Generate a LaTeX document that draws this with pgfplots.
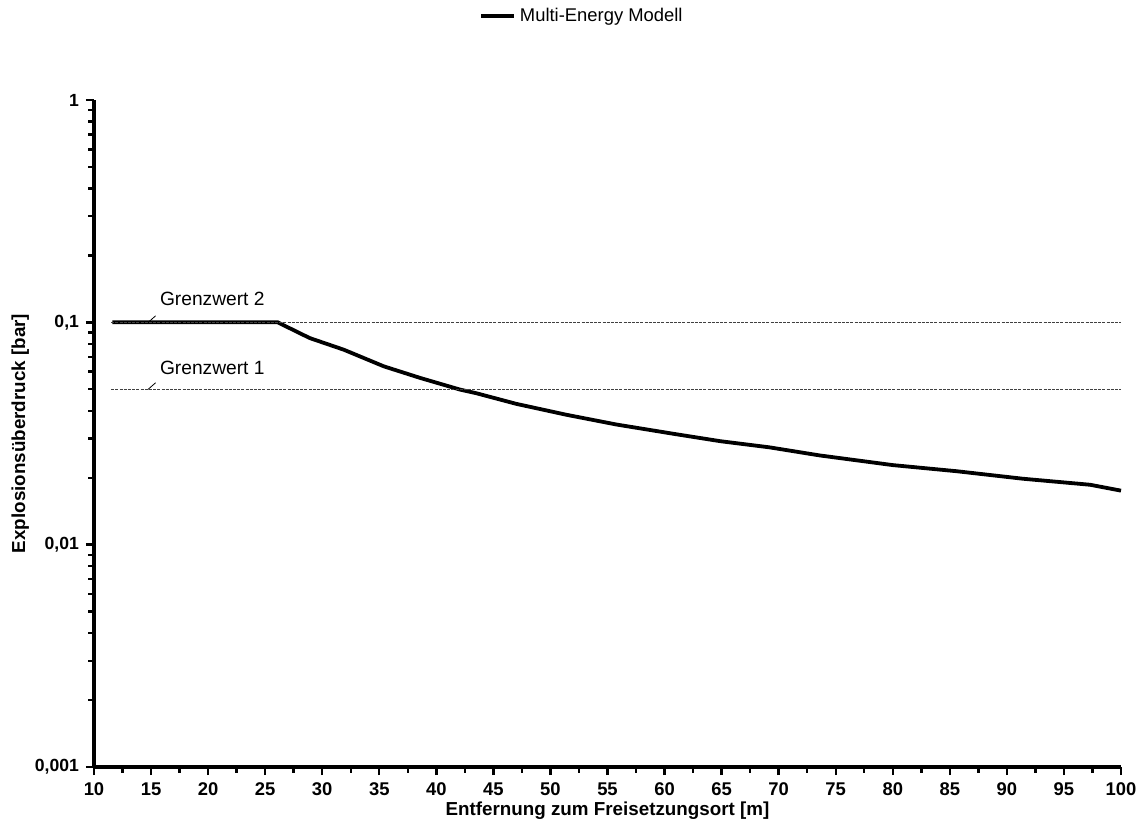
\documentclass[border=0pt]{standalone}
\usepackage{fontspec}
\setmainfont{Liberation Sans}
\usepackage{pgfplots}
\pgfplotsset{compat=1.18}

\begin{document}
\begin{tikzpicture}
\begin{axis}[
  at={(0,0)}, anchor=south west,
  scale only axis,
  width=513.5pt, height=333.5pt,
  xmin=10, xmax=100,
  ymin=0.001, ymax=1,
  ymode=log,
  axis x line=bottom, axis y line=left,
  axis line style={-, line width=1.6pt},
  tick align=outside,
  major tick length=4pt, minor tick length=2.8pt,
  every tick/.style={black, line width=1.2pt},
  xtick={10,15,...,100},
  minor x tick num=1,
  ytick={0.001,0.01,0.1,1},
  yticklabels={{0,001},{0,01},{0,1},{1}},
  /pgf/number format/assume math mode=true,
  xticklabel style={font=\bfseries\fontsize{9.2}{11}\selectfont, yshift=-0.5pt},
  yticklabel style={font=\bfseries\fontsize{8.8}{10}\selectfont},
  xlabel={Entfernung zum Freisetzungsort [m]},
  ylabel={Explosionsüberdruck [bar]},
  label style={font=\bfseries\fontsize{9.4}{11}\selectfont},
  xlabel style={at={(axis description cs:0.5,0)}, anchor=north, yshift=-14pt},
  ylabel style={at={(axis description cs:0,0.5)}, anchor=south, yshift=29pt},
  clip=false,
  legend style={at={(axis description cs:0.476,1.126)}, anchor=center,
    draw=none, fill=none, font=\fontsize{9.2}{11}\selectfont,
    legend cell align=left},
  legend image code/.code={\draw[line width=1.9pt] (0pt,0pt) -- (16.5pt,0pt);},
]
% Druckverlauf nach dem Multi-Energy-Modell
\addplot[black, line width=1.9pt] coordinates {
  (11.6,0.1) (26.1,0.1) (28.9,0.085) (31.9,0.0753) (35.4,0.0634)
  (38.6,0.0562) (42.1,0.0498) (43.5,0.048) (47.0,0.043) (51.4,0.0384)
  (55.8,0.0347) (61.0,0.0314) (64.9,0.0292) (69.2,0.0274) (73.6,0.0252)
  (80.0,0.0228) (85.6,0.0214) (91.4,0.0198) (97.3,0.0186) (100,0.0175)
};
\addlegendentry{Multi-Energy Modell}

% Grenzwerte
\addplot[forget plot, black!75, line width=0.5pt, dash pattern=on 1.5pt off 0.6pt]
  coordinates {(11.5,0.1) (100,0.1)};
\addplot[forget plot, black!75, line width=0.5pt, dash pattern=on 1.5pt off 0.6pt]
  coordinates {(11.5,0.05) (100,0.05)};

% Hinweislinien der Beschriftungen
\addplot[forget plot, black, line width=0.4pt] coordinates {(14.75,0.1) (15.4,0.107)};
\addplot[forget plot, black, line width=0.4pt] coordinates {(14.75,0.05) (15.4,0.0535)};

\node[anchor=west, inner sep=0pt, font=\fontsize{9.6}{11}\selectfont]
  at (axis cs:15.75,0.127) {Grenzwert 2};
\node[anchor=west, inner sep=0pt, font=\fontsize{9.6}{11}\selectfont]
  at (axis cs:15.75,0.0621) {Grenzwert 1};
\end{axis}
\pgfresetboundingbox
\path (-47pt,-29pt) rectangle (524.5pt,383.5pt);
\end{tikzpicture}
\end{document}
